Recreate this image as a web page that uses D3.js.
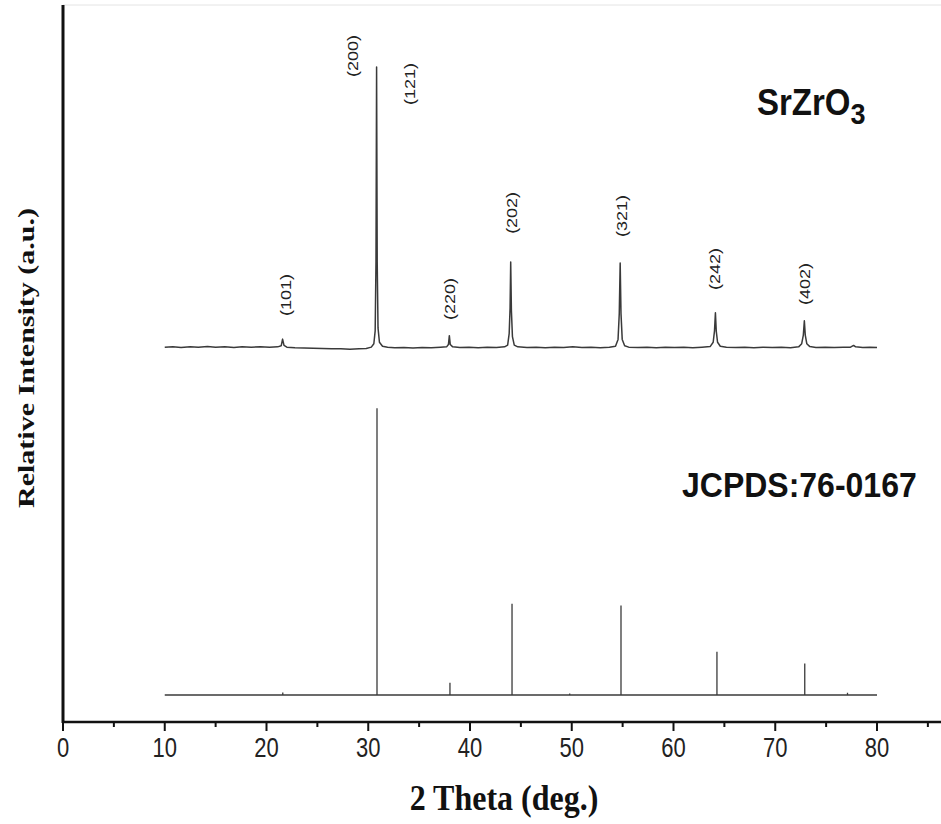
<!DOCTYPE html>
<html>
<head>
  <meta charset="UTF-8">
  <style>
    body {
      margin: 0;
      padding: 0;
      background-color: #ffffff;
    }
    svg {
      display: block;
      background-color: #ffffff;
    }
    .sans { font-family: "Liberation Sans", Arial, sans-serif; }
    .serif { font-family: "Liberation Serif", "Times New Roman", serif; font-weight: bold; }
  </style>
</head>
<body>
  <svg></svg>
  <script src="https://d3js.org/d3.v7.min.js"></script>

  <script>
  let width = 941, height = 824;

  // x ticks (2 theta, deg)
  const xTickLabels = [0, 10, 20, 30, 40, 50, 60, 70, 80];
  const xMinorTicks = [5, 15, 25, 35, 45, 55, 65, 75, 85];

  // measured SrZrO3 pattern: [2theta, relative intensity]
  const sampleTheta = [10.0, 10.8, 11.6, 12.5, 13.3, 14.2, 15.0, 15.9, 16.8, 17.6, 18.5, 19.4, 20.3, 21.1, 21.45, 21.58, 21.72, 22.0, 22.8, 23.7, 24.6, 25.5, 26.4, 27.3, 28.2, 29.1, 29.8, 30.3, 30.55, 30.68, 30.76, 30.82, 30.88, 30.96, 31.1, 31.4, 31.9, 32.6, 33.5, 34.4, 35.3, 36.2, 37.1, 37.7, 37.88, 37.97, 38.06, 38.3, 39.0, 39.9, 40.8, 41.7, 42.6, 43.4, 43.7, 43.85, 43.94, 44.0, 44.07, 44.17, 44.35, 44.7, 45.6, 46.5, 47.4, 48.3, 49.2, 50.1, 51.0, 51.9, 52.8, 53.7, 54.3, 54.55, 54.67, 54.76, 54.84, 54.96, 55.2, 55.6, 56.5, 57.4, 58.3, 59.2, 60.1, 61.0, 61.9, 62.8, 63.6, 63.9, 64.03, 64.12, 64.2, 64.33, 64.6, 65.2, 66.1, 67.0, 67.9, 68.8, 69.7, 70.6, 71.5, 72.3, 72.6, 72.76, 72.86, 72.95, 73.1, 73.4, 74.0, 74.9, 75.8, 76.7, 77.4, 77.7, 77.9, 78.6, 79.3, 80.0];
  const sampleIntensity = [0.3, 0.4, 0.2, 0.4, 0.3, 0.5, 0.3, 0.4, 0.2, 0.4, 0.3, 0.4, 0.3, 0.4, 0.8, 3.1, 0.9, 0.3, 0.1, 0.0, -0.1, -0.2, -0.3, -0.3, -0.4, -0.3, -0.2, 0.3, 1.5, 6, 30, 98, 30, 7, 2, 0.6, 0.3, 0.1, 0.2, 0.0, 0.2, 0.1, 0.3, 0.4, 1.2, 4.3, 1.2, 0.4, 0.2, 0.3, 0.1, 0.3, 0.2, 0.4, 1, 5, 14, 30, 13, 4, 1, 0.4, 0.2, 0.3, 0.1, 0.3, 0.2, 0.4, 0.2, 0.3, 0.1, 0.3, 0.6, 3, 12, 29.6, 12, 3, 0.8, 0.3, 0.2, 0.3, 0.1, 0.3, 0.2, 0.3, 0.1, 0.3, 0.5, 2, 6, 12.3, 6, 2, 0.6, 0.3, 0.2, 0.3, 0.1, 0.3, 0.2, 0.3, 0.1, 0.4, 1.5, 4.5, 9.5, 4.5, 1.5, 0.5, 0.2, 0.3, 0.2, 0.3, 0.3, 0.9, 0.4, 0.2, 0.3, 0.2];

  // JCPDS 76-0167 reference lines
  const refTheta = [21.6, 30.86, 38.03, 44.13, 49.8, 54.84, 64.27, 72.9, 77.1];
  const refIntensity = [0.9, 100, 4.3, 31.8, 0.5, 31.2, 15.1, 11.0, 0.8];

  // Miller index labels: text, 2theta, height above sample baseline
  const hklText = ["(101)", "(200)", "(121)", "(220)", "(202)", "(321)", "(242)", "(402)"];
  const hklTheta = [21.9, 28.5, 34.1, 38.0, 44.1, 54.9, 64.1, 72.9];
  const hklLevel = [11.2, 94.5, 84.7, 9.8, 39.8, 38.7, 20.2, 15.0];

  const sampleOffset = 130.4, refOffset = 9.4;

  const plotLeft = 63, plotBottom = 722, plotTop = 5;

  let svg = d3.select("svg")
      .attr("width", width)
      .attr("height", height);

  let x = d3.scaleLinear().domain([0, 86.29]).range([plotLeft, width]);
  let y = d3.scaleLinear().domain([0, 250]).range([plotBottom, plotTop]);

  // faint top border
  svg.append("line")
      .attr("x1", plotLeft).attr("x2", width)
      .attr("y1", plotTop).attr("y2", plotTop)
      .attr("stroke", "#e4e4e4").attr("stroke-width", 1);

  // sample pattern
  let sample = sampleTheta.map((t, i) => [t, sampleIntensity[i]]);
  let line = d3.line()
      .x(d => x(d[0]))
      .y(d => y(d[1] + sampleOffset));

  svg.append("path")
      .datum(sample)
      .attr("d", line)
      .attr("fill", "none")
      .attr("stroke", "#3a3a3a")
      .attr("stroke-width", 1.5)
      .attr("stroke-linejoin", "round");

  // reference baseline + sticks
  svg.append("line")
      .attr("x1", x(10)).attr("x2", x(80))
      .attr("y1", y(refOffset)).attr("y2", y(refOffset))
      .attr("stroke", "#3a3a3a").attr("stroke-width", 1.4);

  svg.append("g")
      .selectAll("line")
      .data(refTheta)
      .enter()
      .append("line")
      .attr("x1", d => x(d)).attr("x2", d => x(d))
      .attr("y1", y(refOffset))
      .attr("y2", (d, i) => y(refOffset + refIntensity[i]))
      .attr("stroke", "#3a3a3a")
      .attr("stroke-width", 1.3);

  // hkl labels, rotated
  svg.append("g")
      .selectAll("text")
      .data(hklText)
      .enter()
      .append("text")
      .attr("class", "sans")
      .attr("transform", (d, i) => `translate(${x(hklTheta[i])}, ${y(sampleOffset + hklLevel[i])}) rotate(-90) scale(1.2, 1)`)
      .attr("dy", "0.35em")
      .attr("font-size", 15)
      .attr("fill", "#222")
      .text(d => d);

  // x axis
  let xAxis = svg.append("g").attr("transform", `translate(0, ${plotBottom})`);
  xAxis.append("line")
      .attr("x1", plotLeft).attr("x2", width)
      .attr("stroke", "#111").attr("stroke-width", 2.5);

  xAxis.selectAll(".major")
      .data(xTickLabels)
      .enter()
      .append("line")
      .attr("class", "major")
      .attr("x1", d => x(d)).attr("x2", d => x(d))
      .attr("y1", 0).attr("y2", 9)
      .attr("stroke", "#111").attr("stroke-width", 2);

  xAxis.selectAll(".minor")
      .data(xMinorTicks)
      .enter()
      .append("line")
      .attr("class", "minor")
      .attr("x1", d => x(d)).attr("x2", d => x(d))
      .attr("y1", 0).attr("y2", 5)
      .attr("stroke", "#111").attr("stroke-width", 2);

  xAxis.selectAll("text")
      .data(xTickLabels)
      .enter()
      .append("text")
      .attr("class", "sans")
      .attr("transform", d => `translate(${x(d)}, 35) scale(1, 1.25)`)
      .attr("text-anchor", "middle")
      .attr("font-size", 22)
      .attr("fill", "#222")
      .text(d => d);

  // y axis
  svg.append("line")
      .attr("x1", plotLeft).attr("x2", plotLeft)
      .attr("y1", plotTop).attr("y2", plotBottom + 1)
      .attr("stroke", "#111").attr("stroke-width", 3);

  // axis titles
  svg.append("text")
      .attr("class", "serif")
      .attr("transform", `translate(${(x(0) + x(86.29)) / 2 + 2}, 810) scale(1, 1.15)`)
      .attr("text-anchor", "middle")
      .attr("font-size", 32)
      .attr("fill", "#111")
      .text("2 Theta (deg.)");

  svg.append("text")
      .attr("class", "serif")
      .attr("transform", `translate(34, 358) rotate(-90) scale(1.25, 1)`)
      .attr("text-anchor", "middle")
      .attr("font-size", 24)
      .attr("fill", "#111")
      .text("Relative Intensity (a.u.)");

  // pattern names
  let srz = svg.append("text")
      .attr("class", "sans")
      .attr("transform", "translate(757, 115) scale(1, 1.1)")
      .attr("font-size", 33)
      .attr("font-weight", "bold")
      .attr("fill", "#111");
  srz.append("tspan").text("SrZrO");
  srz.append("tspan").attr("dy", 8).attr("font-size", 27).text("3");

  svg.append("text")
      .attr("class", "sans")
      .attr("transform", "translate(682, 497) scale(1, 1.1)")
      .attr("font-size", 32)
      .attr("font-weight", "bold")
      .attr("fill", "#111")
      .text("JCPDS:76-0167");
  </script>

</body>
</html>
